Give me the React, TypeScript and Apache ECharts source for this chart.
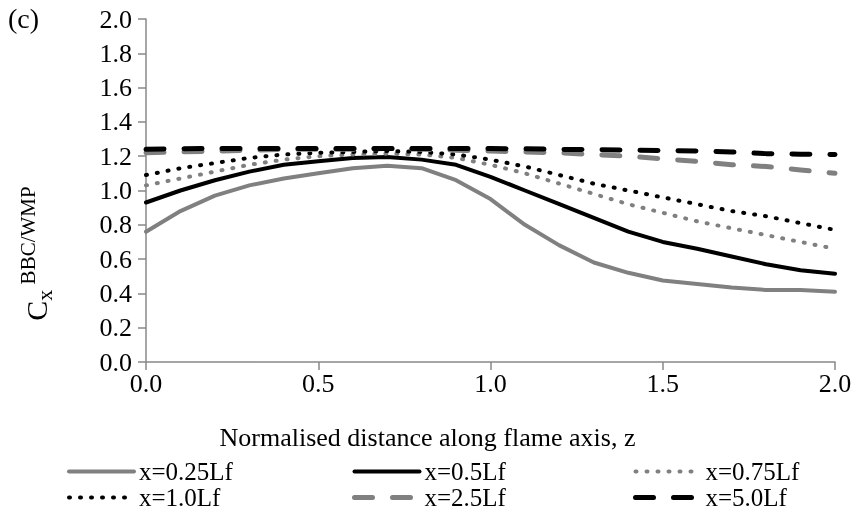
import React, { useEffect, useRef } from "react";
import * as echarts from "echarts";

const zValues = [0, 0.1, 0.2, 0.3, 0.4, 0.5, 0.6, 0.7, 0.8, 0.9, 1.0, 1.1, 1.2, 1.3, 1.4, 1.5, 1.6, 1.7, 1.8, 1.9, 2.0];
const seriesNames = ["x=0.25Lf", "x=0.5Lf", "x=0.75Lf", "x=1.0Lf", "x=2.5Lf", "x=5.0Lf"];
const x025 = [0.76, 0.88, 0.97, 1.03, 1.07, 1.10, 1.13, 1.145, 1.13, 1.06, 0.95, 0.80, 0.68, 0.58, 0.52, 0.475, 0.455, 0.435, 0.42, 0.42, 0.41];
const x05 = [0.93, 1.0, 1.06, 1.11, 1.15, 1.17, 1.19, 1.195, 1.18, 1.15, 1.08, 1.0, 0.92, 0.84, 0.76, 0.70, 0.66, 0.615, 0.57, 0.535, 0.515];
const x075 = [1.03, 1.07, 1.11, 1.15, 1.18, 1.2, 1.21, 1.215, 1.21, 1.19, 1.15, 1.1, 1.04, 0.98, 0.92, 0.87, 0.82, 0.78, 0.74, 0.7, 0.66];
const x10 = [1.09, 1.13, 1.16, 1.19, 1.21, 1.22, 1.225, 1.23, 1.225, 1.21, 1.18, 1.14, 1.09, 1.04, 1.0, 0.96, 0.92, 0.88, 0.85, 0.81, 0.77];
const x25 = [1.22, 1.225, 1.23, 1.235, 1.24, 1.24, 1.24, 1.245, 1.24, 1.235, 1.23, 1.225, 1.22, 1.21, 1.2, 1.185, 1.17, 1.15, 1.14, 1.12, 1.1];
const x50 = [1.24, 1.243, 1.245, 1.245, 1.245, 1.245, 1.245, 1.245, 1.245, 1.245, 1.245, 1.243, 1.24, 1.238, 1.235, 1.233, 1.23, 1.225, 1.215, 1.212, 1.21];
const xTicks = { min: 0, max: 2, interval: 0.5 };
const yTicks = { min: 0, max: 2, interval: 0.2 };

const FONT = "'Liberation Serif', 'Times New Roman', serif";

export default function App() {
  const ref = useRef<HTMLDivElement>(null);
  useEffect(() => {
    if (!ref.current) return;
    const chart = echarts.init(ref.current, undefined, { renderer: "svg" });
    const pair = (arr: number[]) => zValues.map((z, i) => [z, arr[i]]);
    const gray = "#808080";
    const black = "#000000";
    const styles = [
      { color: gray, width: 4, type: "solid" },
      { color: black, width: 4, type: "solid" },
      { color: gray, width: 4, type: [1, 10] },
      { color: black, width: 4, type: [1, 10] },
      { color: gray, width: 5, type: [18, 20] },
      { color: black, width: 5, type: [18, 20] },
    ];
    const data = [x025, x05, x075, x10, x25, x50];
    const series = seriesNames.map((name, i) => ({
      name,
      type: "line",
      data: pair(data[i]),
      symbol: "none",
      smooth: false,
      color: styles[i].color,
      lineStyle: { color: styles[i].color, width: styles[i].width, type: styles[i].type as any, cap: "round" },
      z: 2 + i,
    }));
    const legendItem = (i: number) => ({
      name: seriesNames[i],
      lineStyle: { width: styles[i].width, type: styles[i].type as any, cap: "round", color: styles[i].color },
    });
    const legendBase = {
      orient: "vertical",
      top: 454,
      height: 68,
      itemWidth: 65,
      itemHeight: 14,
      itemGap: 1,
      itemStyle: { opacity: 0 },
      textStyle: { fontFamily: FONT, fontSize: 25, lineHeight: 22, color: "#000", padding: [0, 0, 0, 0] },
      selectedMode: false,
    };
    const axisColor = "#888888";
    chart.setOption({
      animation: false,
      textStyle: { fontFamily: FONT },
      grid: { left: 146, right: 24, top: 19, bottom: 161, containLabel: false },
      xAxis: {
        type: "value",
        ...xTicks,
        name: "Normalised distance along flame axis, z",
        nameLocation: "middle",
        nameGap: 62,
        nameTextStyle: { fontFamily: FONT, fontSize: 26, color: "#000", padding: [0, 126, 0, 0] },
        axisLine: { show: true, lineStyle: { color: axisColor, width: 1.5 } },
        axisTick: { show: true, inside: false, length: 8, lineStyle: { color: axisColor, width: 1.5 } },
        axisLabel: { fontFamily: FONT, fontSize: 26, color: "#000", margin: 8, formatter: (v: number) => v.toFixed(1) },
        splitLine: { show: false },
      },
      yAxis: {
        type: "value",
        ...yTicks,
        name: "{c|C}{x|x}{s| BBC/WMP}",
        nameLocation: "middle",
        nameRotate: 90,
        nameGap: 91,
        nameTextStyle: {
          padding: [0, 126, 0, 0],
          rich: {
            c: { fontFamily: FONT, fontSize: 30, color: "#000", lineHeight: 38 },
            x: { fontFamily: FONT, fontSize: 22, color: "#000", lineHeight: 20, verticalAlign: "bottom" },
            s: { fontFamily: FONT, fontSize: 21, color: "#000", lineHeight: 20, verticalAlign: "top" },
          },
        },
        axisLine: { show: true, lineStyle: { color: axisColor, width: 1.5 } },
        axisTick: { show: true, inside: false, length: 8, lineStyle: { color: axisColor, width: 1.5 } },
        axisLabel: { fontFamily: FONT, fontSize: 26, color: "#000", margin: 14, formatter: (v: number) => v.toFixed(1) },
        splitLine: { show: false },
      },
      legend: [
        { ...legendBase, left: 62, data: [legendItem(0), legendItem(3)] },
        { ...legendBase, left: 347, data: [legendItem(1), legendItem(4)] },
        { ...legendBase, left: 628, data: [legendItem(2), legendItem(5)] },
      ],
      graphic: [
        { type: "text", left: 8, top: 4, style: { text: "(c)", font: `28px 'Liberation Serif', serif`, fill: "#000" } },
      ],
      series,
    });
    return () => chart.dispose();
  }, []);
  return <div ref={ref} style={{ position: "fixed", left: 0, top: 0, width: 859, height: 523 }} />;
}
